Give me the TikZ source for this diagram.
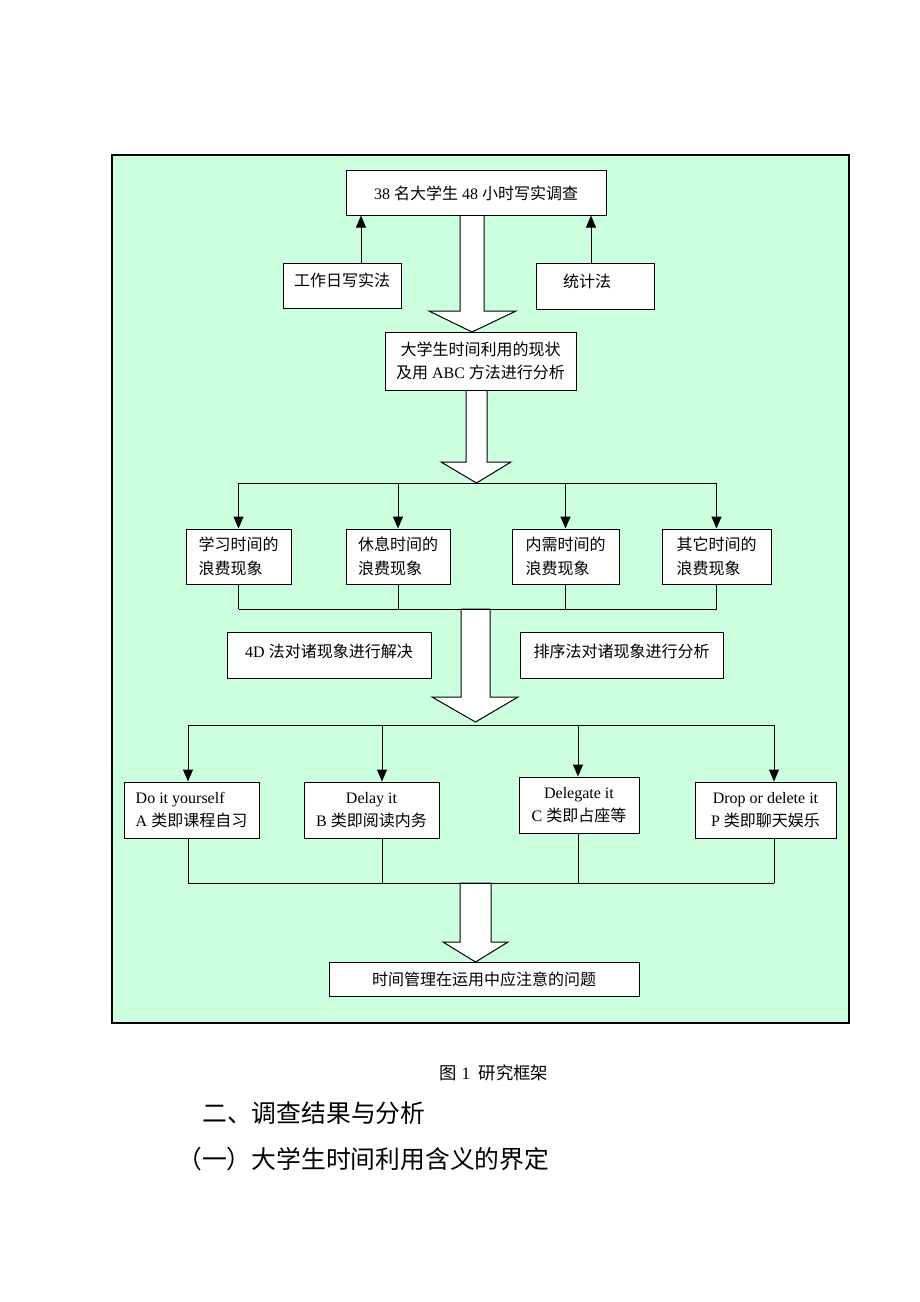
\documentclass[tikz,border=0pt]{standalone}
\usepackage{fontspec}
\setmainfont{Liberation Serif}
\newfontfamily\zhf{Noto Sans CJK SC}
\newcommand\zh[1]{{\zhf #1}}
\usetikzlibrary{arrows.meta}
\definecolor{bggreen}{RGB}{204,255,221}
\newcommand\blockarr[7]{%
  \draw[barrow] (#1,#3) -- (#2,#3) -- (#2,#4) -- (#6,#4) -- ({(#1+#2)/2},#7) -- (#5,#4) -- (#1,#4) -- cycle;}
\begin{document}
\begin{tikzpicture}[x=0.75pt,y=-0.75pt,
  box/.style={draw=black, line width=0.75pt, fill=white, inner sep=0pt,
    font=\fontsize{12}{17.5}\selectfont, align=center},
  bsz/.style 2 args={minimum width=#1*0.75pt, minimum height=#2*0.75pt},
  arr/.style={draw=black, line width=0.75pt, -{Triangle[width=7.5pt,length=9pt]}},
  ln/.style={draw=black, line width=0.75pt},
  barrow/.style={draw=black, line width=0.75pt, fill=white, line join=miter}]
\useasboundingbox (0,0) rectangle (920,1302);
% background frame
\draw[line width=1pt, fill=bggreen] (112,155) rectangle (849,1023);

% block arrows
\blockarr{460}{484}{215}{311}{429}{516}{332}
\blockarr{466}{487}{390}{462}{441}{511}{483}
\blockarr{461}{490}{609}{697}{432}{518}{722}
\blockarr{460}{491}{883}{942}{443}{508}{962}

% nodes
\node[box, bsz={260}{44}] (top) at (476,193) {38 \zh{名大学生} 48 \zh{小时写实调查}};
\node[box, bsz={118}{45}, text depth=8pt] (wr) at (342,285.5) {\zh{工作日写实法}};
\node[box, bsz={118}{46}, text depth=8pt] (tj) at (595,286) {\zh{统计法}\hspace*{12pt}};
\node[box, bsz={191}{58}] (b2) at (480.5,361) {\zh{大学生时间利用的现状}\\\zh{及用} ABC \zh{方法进行分析}};

\node[box, bsz={105}{55}, align=left] (r1a) at (238.5,556.5) {\zh{学习时间的}\\\zh{浪费现象}};
\node[box, bsz={104}{55}, align=left] (r1b) at (398,556.5) {\zh{休息时间的}\\\zh{浪费现象}};
\node[box, bsz={107}{55}, align=left] (r1c) at (565.5,556.5) {\zh{内需时间的}\\\zh{浪费现象}};
\node[box, bsz={109}{55}, align=left] (r1d) at (716.5,556.5) {\zh{其它时间的}\\\zh{浪费现象}};

\node[box, bsz={204}{46}, text depth=6pt] (d4) at (329,655) {4D \zh{法对诸现象进行解决}};
\node[box, bsz={203}{46}, text depth=6pt] (px) at (621.5,655) {\zh{排序法对诸现象进行分析}};

\node[box, bsz={135}{56}, align=left] (ra) at (191.5,810) {Do it yourself\\A \zh{类即课程自习}};
\node[box, bsz={135}{56}] (rb) at (371.5,810) {Delay it\\B \zh{类即阅读内务}};
\node[box, bsz={120}{56}] (rc) at (579,805) {Delegate it\\C \zh{类即占座等}};
\node[box, bsz={141}{56}] (rd) at (765.5,810) {Drop or delete it\\P \zh{类即聊天娱乐}};

\node[box, bsz={310}{34}] (fin) at (484,979) {\zh{时间管理在运用中应注意的问题}};

% arrows from methods to top
\coordinate (wx) at (361,0);
\coordinate (tx) at (591,0);
\draw[arr] (wr.north -| wx) -- (top.south -| wx);
\draw[arr] (tj.north -| tx) -- (top.south -| tx);

% first distribution
\coordinate (h1) at (476,483);
\draw[ln] (r1a.north |- h1) -- (r1d.north |- h1);
\foreach \n in {r1a,r1b,r1c,r1d}{\draw[arr] (\n.north |- h1) -- (\n.north);}
% first collection
\coordinate (c1) at (476,609);
\draw[ln] (r1a.south |- c1) -- (r1d.south |- c1);
\foreach \n in {r1a,r1b,r1c,r1d}{\draw[ln] (\n.south) -- (\n.south |- c1);}

% second distribution
\coordinate (ta) at (188,725);
\coordinate (tb) at (382,725);
\coordinate (tc) at (578,725);
\coordinate (td) at (774,725);
\draw[ln] (ta) -- (td);
\draw[arr] (ta) -- (ta |- ra.north);
\draw[arr] (tb) -- (tb |- rb.north);
\draw[arr] (tc) -- (tc |- rc.north);
\draw[arr] (td) -- (td |- rd.north);
% second collection
\coordinate (ba) at (188,883);
\coordinate (bb) at (382,883);
\coordinate (bc) at (578,883);
\coordinate (bd) at (774,883);
\draw[ln] (ba) -- (bd);
\draw[ln] (ba |- ra.south) -- (ba);
\draw[ln] (bb |- rb.south) -- (bb);
\draw[ln] (bc |- rc.south) -- (bc);
\draw[ln] (bd |- rd.south) -- (bd);

% caption and headings
\node[font=\fontsize{13}{15}\selectfont, inner sep=0pt] (cap) at (494,1073) {\zh{图} 1 \ \zh{研究框架}};
\node[anchor=west, inner sep=0pt, font=\zhf\fontsize{18.6}{20}\selectfont] (hd1) at (202,1113) {二、调查结果与分析};
\node[anchor=west, inner sep=0pt, font=\zhf\fontsize{18.6}{20}\selectfont] (hd2) at (177,1159) {（一）大学生时间利用含义的界定};
\end{tikzpicture}
\end{document}
